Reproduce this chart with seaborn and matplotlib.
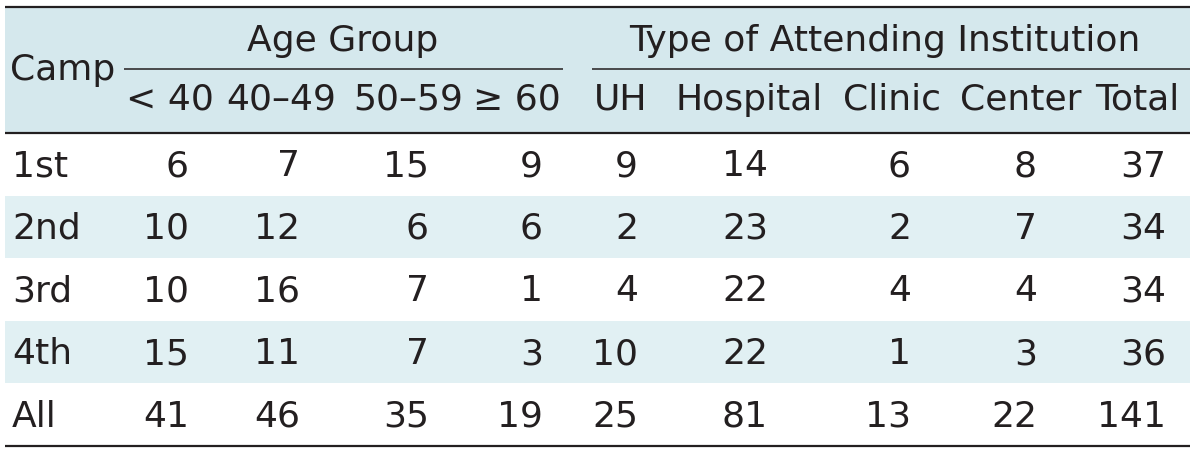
import seaborn as sns
import pandas as pd
import matplotlib.pyplot as plt
from matplotlib import font_manager

# table values
camps = ["1st", "2nd", "3rd", "4th", "All"]
age_lt40 = [6, 10, 10, 15, 41]
age_40_49 = [7, 12, 16, 11, 46]
age_50_59 = [15, 6, 7, 7, 35]
age_ge60 = [9, 6, 1, 3, 19]
uh = [9, 2, 4, 10, 25]
hospital = [14, 23, 22, 22, 81]
clinic = [6, 2, 4, 1, 13]
center = [8, 7, 4, 3, 22]
total = [37, 34, 34, 36, 141]

col_labels = ["< 40", "40\u201349", "50\u201359", "\u2265 60",
              "UH", "Hospital", "Clinic", "Center", "Total"]
group_labels = ["Age Group", "Type of Attending Institution"]

df = pd.DataFrame({
    col_labels[0]: age_lt40, col_labels[1]: age_40_49,
    col_labels[2]: age_50_59, col_labels[3]: age_ge60,
    col_labels[4]: uh, col_labels[5]: hospital, col_labels[6]: clinic,
    col_labels[7]: center, col_labels[8]: total,
}, index=camps)

sns.set_theme(style="white")
names = {f.name for f in font_manager.fontManager.ttflist}
if "Liberation Sans Narrow" in names:
    plt.rcParams["font.family"] = ["Liberation Sans Narrow", "DejaVu Sans"]
    fs = 31
else:
    plt.rcParams["font.family"] = ["DejaVu Sans Condensed", "DejaVu Sans"]
    fs = 26

ink = "#231f20"
head_bg = "#d5e8ed"
stripe = "#e1f0f3"

# layout in pixels
left, right = 5, 1190
top_line, head_line, bottom_line = 8, 134, 447
row_h = (bottom_line - head_line) / len(camps)
num_right = [189, 300, 429, 543, 638, 768, 911, 1037, 1166]
head_center = [170, 281, 408, 517, 621, 749, 892, 1021, 1137]
group_span = [(124, 563), (592, 1190)]
group_center = [343, 885]

fig = plt.figure(figsize=(12, 4.56), dpi=100)
ax = fig.add_axes([0, 0, 1, 1])
ax.set_xlim(0, 1200)
ax.set_ylim(456, 0)
ax.axis("off")

# header band
ax.fill_between([left, right], top_line, head_line, color=head_bg, lw=0)
# striped rows
for i, camp in enumerate(df.index):
    y0 = head_line + i * row_h
    if i % 2 == 1:
        ax.fill_between([left, right], y0, y0 + row_h, color=stripe, lw=0)
    yc = y0 + row_h / 2 + 1
    ax.text(12, yc, camp, ha="left", va="center", fontsize=fs, color=ink)
    for j, col in enumerate(df.columns):
        ax.text(num_right[j], yc, str(df.loc[camp, col]), ha="right",
                va="center", fontsize=fs, color=ink)

# header text
ax.text(10, 70, "Camp", ha="left", va="center", fontsize=fs, color=ink)
for (x0, x1), xc, lab in zip(group_span, group_center, group_labels):
    ax.text(xc, 41, lab, ha="center", va="center", fontsize=fs, color=ink)
    ax.plot([x0, x1], [70, 70], color=ink, lw=1.1, solid_capstyle="butt")
for j, lab in enumerate(col_labels):
    ax.text(head_center[j], 100, lab, ha="center", va="center",
            fontsize=fs, color=ink)

# rules
for y in (top_line, head_line, bottom_line):
    ax.plot([left, right], [y, y], color=ink, lw=1.6, solid_capstyle="butt")

fig.savefig("out.png", dpi=100)
plt.close(fig)
